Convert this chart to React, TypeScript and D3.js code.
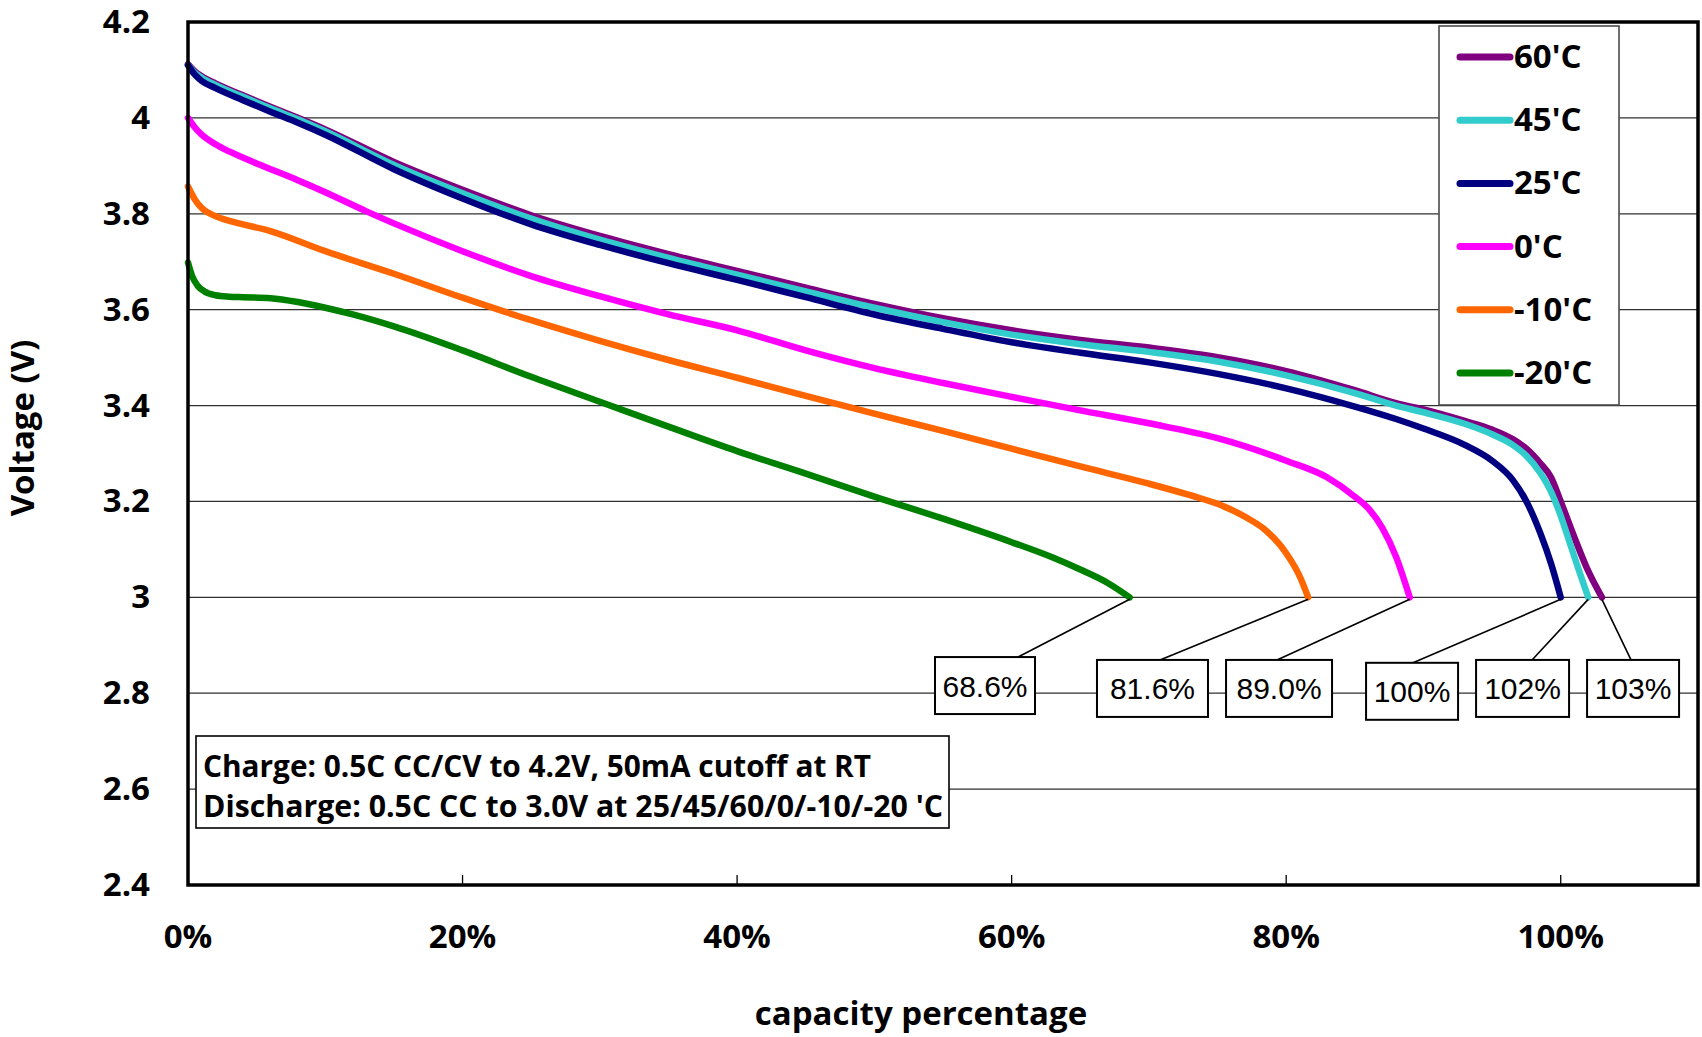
import React from 'react';
import * as d3 from 'd3';

type Pt = [number, number];

// Axis ticks
const capacityTicks = [0, 20, 40, 60, 80, 100];
const voltageTicks = [2.4, 2.6, 2.8, 3.0, 3.2, 3.4, 3.6, 3.8, 4.0, 4.2];

// Series, in legend / drawing order
const seriesNames = ["60'C", "45'C", "25'C", "0'C", "-10'C", "-20'C"];
const seriesColors = ['#800080', '#33CCCC', '#000080', '#FF00FF', '#FF6600', '#008000'];
const cutoffVoltage = 3.0;
const endCapacity = [103, 102, 100, 89.0, 81.6, 68.6];
const endLabels = ['103%', '102%', '100%', '89.0%', '81.6%', '68.6%'];

// Discharge curves: [capacity %, voltage V], the cutoff point is appended from endCapacity
const curve60: Pt[] = [
  [0, 4.112], [0.5, 4.097], [1, 4.087], [2, 4.072], [4, 4.047], [6, 4.023], [8, 4.0],
  [10, 3.976], [15, 3.908], [20, 3.85], [25, 3.797], [30, 3.754], [35, 3.716], [40, 3.681],
  [45, 3.646], [50, 3.612], [55, 3.582], [60, 3.557], [65, 3.537], [70, 3.521], [75, 3.501],
  [80, 3.472], [85, 3.432], [88, 3.405], [90, 3.392], [93, 3.368], [95, 3.35], [96.5, 3.33],
  [97.5, 3.31], [98.5, 3.28], [99.3, 3.25], [100, 3.2], [101, 3.125], [102, 3.055],
];
const curve45: Pt[] = [
  [0, 4.11], [0.5, 4.094], [1, 4.084], [2, 4.069], [4, 4.044], [6, 4.02], [8, 3.997],
  [10, 3.972], [15, 3.902], [20, 3.843], [25, 3.79], [30, 3.746], [35, 3.708], [40, 3.673],
  [45, 3.638], [50, 3.604], [55, 3.574], [60, 3.548], [65, 3.528], [70, 3.512], [75, 3.492],
  [80, 3.463], [85, 3.426], [88, 3.4], [90, 3.386], [93, 3.362], [95, 3.34], [96.5, 3.318],
  [97.5, 3.295], [98.5, 3.26], [99.3, 3.22], [100, 3.17], [100.7, 3.11], [101.4, 3.05],
];
const curve25: Pt[] = [
  [0, 4.11], [0.5, 4.09], [1, 4.077], [2, 4.062], [4, 4.037], [6, 4.013], [8, 3.99],
  [10, 3.965], [15, 3.893], [20, 3.832], [25, 3.778], [30, 3.735], [35, 3.697], [40, 3.662],
  [45, 3.626], [50, 3.59], [55, 3.56], [60, 3.532], [65, 3.51], [70, 3.49], [75, 3.466],
  [80, 3.436], [85, 3.398], [88, 3.372], [90, 3.352], [93, 3.318], [95, 3.285], [96.5, 3.245],
  [97.5, 3.2], [98.5, 3.135], [99.3, 3.07],
];
const curve0: Pt[] = [
  [0, 4.0], [0.5, 3.98], [1, 3.965], [2, 3.945], [3, 3.93], [5, 3.905], [8, 3.87],
  [10, 3.845], [13, 3.805], [15, 3.78], [20, 3.722], [25, 3.67], [30, 3.628], [35, 3.59],
  [40, 3.557], [45, 3.515], [50, 3.478], [55, 3.447], [60, 3.418], [65, 3.39], [70, 3.363],
  [75, 3.332], [80, 3.285], [83, 3.25], [85, 3.21], [86, 3.185], [87, 3.145], [88, 3.085],
];
const curveM10: Pt[] = [
  [0, 3.857], [0.5, 3.83], [1, 3.812], [2, 3.795], [3.3, 3.783], [6, 3.764], [10, 3.722],
  [15, 3.675], [20, 3.625], [25, 3.578], [30, 3.535], [35, 3.495], [40, 3.458], [45, 3.42],
  [50, 3.383], [55, 3.347], [60, 3.31], [65, 3.273], [70, 3.237], [73, 3.213], [75, 3.195],
  [77, 3.168], [78.5, 3.14], [80, 3.092], [81, 3.043],
];
const curveM20: Pt[] = [
  [0, 3.698], [0.3, 3.67], [0.7, 3.65], [1.2, 3.638], [2, 3.63], [3, 3.627], [4, 3.626],
  [6, 3.624], [8, 3.616], [10, 3.604], [12, 3.59], [15, 3.565], [20, 3.515], [25, 3.46],
  [30, 3.408], [35, 3.356], [40, 3.305], [45, 3.258], [50, 3.21], [55, 3.164], [60, 3.115],
  [63, 3.083], [65, 3.058], [67, 3.03],
];
const seriesCurves = [curve60, curve45, curve25, curve0, curveM10, curveM20];

// Test conditions note
const noteLines = [
  'Charge: 0.5C CC/CV  to 4.2V, 50mA cutoff at RT',
  "Discharge: 0.5C CC to 3.0V at 25/45/60/0/-10/-20 'C",
];

// Placement of the end-capacity callouts (centre in data units, box width in px,
// x where the leader meets the box top)
const calloutLayout = [
  { cx: 105.27, cy: 2.81, w: 92, leadX: 105.12 },
  { cx: 97.22, cy: 2.81, w: 93, leadX: 97.91 },
  { cx: 89.17, cy: 2.804, w: 92, leadX: 89.24 },
  { cx: 79.48, cy: 2.81, w: 106, leadX: 79.33 },
  { cx: 70.26, cy: 2.81, w: 111, leadX: 70.81 },
  { cx: 58.06, cy: 2.816, w: 100, leadX: 60.47 },
];

const W = 1702;
const H = 1037;
const plot = { left: 188, right: 1698, top: 22, bottom: 885 };
const boldFont = "'Open Sans', 'DejaVu Sans', sans-serif";

export default function App() {
  const x = d3.scaleLinear().domain([0, 110]).range([plot.left, plot.right]);
  const y = d3.scaleLinear().domain([2.4, 4.2]).range([plot.bottom, plot.top]);
  const line = d3
    .line<Pt>()
    .x((d) => x(d[0]))
    .y((d) => y(d[1]))
    .curve(d3.curveMonotoneX);

  const fullCurves = seriesCurves.map((c, i) => [...c, [endCapacity[i], cutoffVoltage] as Pt]);
  const boxH = 57;

  const legend = { x: 1439, y: 26, w: 180, h: 379, first: 57, step: 63.2 };

  return (
    <svg
      width={W}
      height={H}
      viewBox={`0 0 ${W} ${H}`}
      style={{ position: 'absolute', left: 0, top: 0, background: '#fff', display: 'block' }}
    >
      <rect x={0} y={0} width={W} height={H} fill="#fff" />

      {/* horizontal gridlines */}
      {voltageTicks.slice(1, -1).map((v) => (
        <line
          key={`g${v}`}
          x1={plot.left}
          x2={plot.right}
          y1={y(v)}
          y2={y(v)}
          stroke="#303030"
          strokeWidth={1.3}
        />
      ))}

      {/* x-axis inner tick marks */}
      {capacityTicks.map((t) => (
        <line
          key={`t${t}`}
          x1={x(t)}
          x2={x(t)}
          y1={plot.bottom}
          y2={plot.bottom - 10}
          stroke="#000"
          strokeWidth={1.3}
        />
      ))}

      {/* discharge curves */}
      {fullCurves.map((c, i) => (
        <path
          key={seriesNames[i]}
          d={line(c) || ''}
          fill="none"
          stroke={seriesColors[i]}
          strokeWidth={6.5}
          strokeLinejoin="round"
          strokeLinecap="round"
        />
      ))}

      {/* end-capacity callouts */}
      {endLabels.map((lbl, i) => {
        const L = calloutLayout[i];
        const cx = x(L.cx);
        const cy = y(L.cy);
        const top = cy - boxH / 2;
        return (
          <g key={`c${lbl}`}>
            <line
              x1={x(endCapacity[i])}
              y1={y(cutoffVoltage) + 2}
              x2={x(L.leadX)}
              y2={top}
              stroke="#000"
              strokeWidth={1.6}
            />
            <rect
              x={cx - L.w / 2}
              y={top}
              width={L.w}
              height={boxH}
              fill="#fff"
              stroke="#000"
              strokeWidth={2}
            />
            <text
              x={cx}
              y={cy + 11}
              textAnchor="middle"
              fontFamily="'Liberation Sans', Arial, sans-serif"
              fontSize={30}
              fill="#000"
            >
              {lbl}
            </text>
          </g>
        );
      })}

      {/* test-condition note */}
      <rect x={196} y={736} width={753} height={92} fill="#fff" stroke="#000" strokeWidth={1.6} />
      <text x={203} y={777} fontFamily={boldFont} fontWeight={700} fontSize={30} textLength={668} lengthAdjust="spacingAndGlyphs">
        {noteLines[0]}
      </text>
      <text x={203} y={817} fontFamily={boldFont} fontWeight={700} fontSize={30} textLength={740} lengthAdjust="spacingAndGlyphs">
        {noteLines[1]}
      </text>

      {/* legend */}
      <rect x={legend.x} y={legend.y} width={legend.w} height={legend.h} fill="#fff" stroke="#4a4a4a" strokeWidth={1.6} />
      {seriesNames.map((name, i) => {
        const ly = legend.first + i * legend.step;
        return (
          <g key={`l${name}`}>
            <line x1={1460} x2={1510} y1={ly} y2={ly} stroke={seriesColors[i]} strokeWidth={7} strokeLinecap="round" />
            <text x={1514} y={ly + 11} fontFamily={boldFont} fontWeight={700} fontSize={33} fill="#000">
              {name}
            </text>
          </g>
        );
      })}

      {/* plot frame */}
      <rect
        x={plot.left}
        y={plot.top}
        width={plot.right - plot.left}
        height={plot.bottom - plot.top}
        fill="none"
        stroke="#000"
        strokeWidth={3.5}
      />

      {/* y tick labels */}
      {voltageTicks.map((v) => (
        <text
          key={`yl${v}`}
          x={150}
          y={y(v) + 11}
          textAnchor="end"
          fontFamily={boldFont}
          fontWeight={700}
          fontSize={33}
          fill="#000"
        >
          {String(v)}
        </text>
      ))}

      {/* x tick labels */}
      {capacityTicks.map((t) => (
        <text
          key={`xl${t}`}
          x={x(t)}
          y={948}
          textAnchor="middle"
          fontFamily={boldFont}
          fontWeight={700}
          fontSize={33}
          fill="#000"
        >
          {`${t}%`}
        </text>
      ))}

      {/* axis titles */}
      <text x={921} y={1025} textAnchor="middle" fontFamily={boldFont} fontWeight={700} fontSize={33} fill="#000">
        capacity percentage
      </text>
      <text
        transform={`translate(34, 428) rotate(-90)`}
        textAnchor="middle"
        fontFamily={boldFont}
        fontWeight={700}
        fontSize={33}
        fill="#000"
      >
        Voltage (V)
      </text>
    </svg>
  );
}
